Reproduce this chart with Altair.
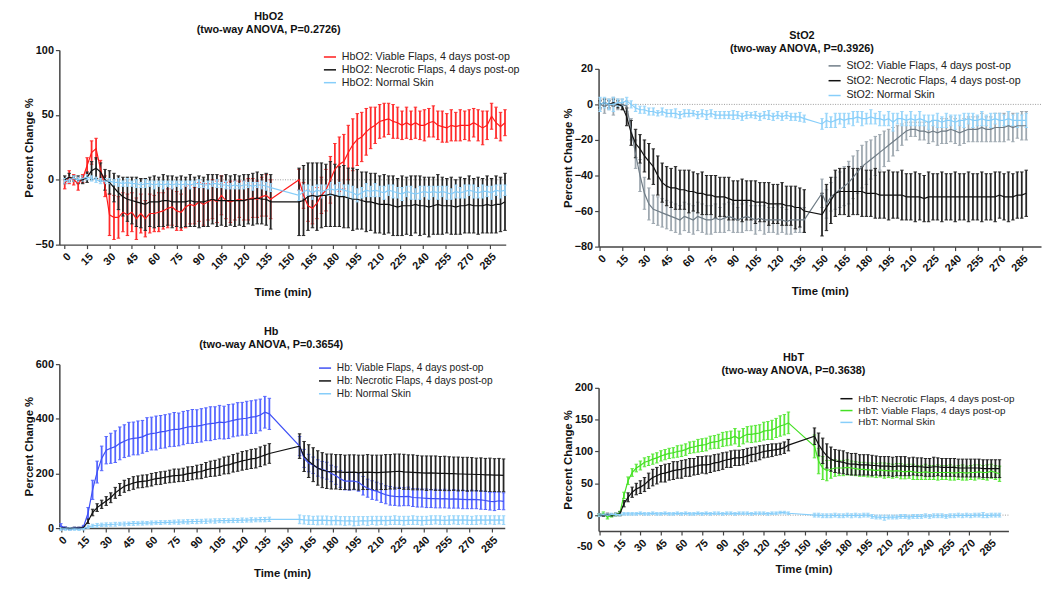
import altair as alt
import pandas as pd

FONT = "Liberation Sans"
TICKS_X = list(range(0, 286, 15))

# ---------------- time grids (minutes) ----------------
T_A = list(range(0, 139, 3))          # 0..138
T_B_HBO2 = list(range(157, 296, 3))   # 157..295
T_B_STO2 = list(range(150, 289, 3))   # 150..288
T_B_HB = list(range(158, 294, 3))     # 158..293
T_B_HBT = list(range(157, 293, 3))    # 157..292

# ---------------- HbO2 ----------------
HBO2_VIA_A = [-3,2,0,-3,1, 11,21,24,8,-5, -27,-29,-29,-25,-27, -25,-30,-26,-30,-26, -26,-25,-24,-22,-21, -24,-25,-21,-19,-20, -17,-19,-17,-15,-17, -12,-16,-17,-16,-15, -16,-15,-14,-15,-13, -12,-15]
HBO2_VIA_A_ERR = [4,5,4,5,3, 6,9,8,7,8, 16,17,16,15,16, 15,16,15,14,15, 14,15,14,15,14, 15,14,16,15,14, 15,16,14,15,16, 15,14,16,15,14, 15,16,15,14,15, 16,15]
HBO2_VIA_B = [0,-12,-20,-22,-18, -12,-8,0,8,12, 14,21,27,31,33, 37,40,42,45,46, 47,45,44,42,44, 42,44,42,42,44, 45,42,41,40,42, 41,42,42,42,44, 42,40,42,49,44, 41,44]
HBO2_VIA_B_ERR = [8,10,12,12,12, 14,16,18,20,21, 21,21,20,20,19, 18,16,14,13,13, 12,13,12,11,12, 11,12,11,12,11, 12,11,12,11,12, 11,12,11,12,11, 12,13,11,10,12, 11,10]
HBO2_NEC_A = [0,2,1,0,0, 2,7,9,6,0, -2,-6,-10,-13,-15, -16,-17,-18,-19,-17, -17,-17,-16,-16,-17, -17,-17,-17,-16,-17, -17,-17,-16,-15,-16, -16,-16,-16,-16,-16, -16,-15,-15,-14,-15, -15,-17]
HBO2_NEC_A_ERR = [3,3,2,3,3, 4,7,8,7,8, 9,11,13,15,17, 18,19,19,20,19, 20,19,20,19,20, 19,20,19,20,19, 20,19,20,19,20, 19,20,19,20,19, 20,19,20,20,19, 20,21]
HBO2_NEC_B = [-17,-16,-13,-12,-13, -12,-12,-11,-12,-13, -13,-14,-15,-15,-16, -17,-17,-18,-19,-19, -19,-20,-21,-20,-20, -20,-19,-20,-20,-21, -20,-19,-20,-20,-20, -21,-20,-20,-19,-20, -20,-20,-19,-20,-19, -19,-17]
HBO2_NEC_B_ERR = [26,27,26,25,26, 25,24,25,24,23, 24,23,24,23,22, 23,22,23,22,23, 22,23,22,23,22, 23,22,23,22,23, 22,23,22,21,22, 21,22,21,22,21, 22,21,22,21,22, 21,22]
HBO2_NOR_A = [-1,0,1,0,1, 2,1,0,-1,-1, -1,-2,-2,-3,-2, -3,-3,-4,-3,-3, -4,-3,-4,-3,-4, -3,-4,-3,-4,-3, -3,-4,-4,-3,-3, -4,-4,-5,-4,-5, -4,-4,-5,-4,-4, -5,-6]
HBO2_NOR_A_ERR = [2,2,2,2,2, 2,2,2,2,2, 2,2,3,2,3, 2,3,2,3,2, 3,2,3,2,3, 2,3,2,3,2, 3,2,3,2,3, 2,3,2,3,2, 3,2,3,2,3, 3,3]
HBO2_NOR_B = [-12,-9,-8,-10,-8, -9,-8,-7,-8,-7, -8,-9,-10,-12,-10, -8,-9,-8,-9,-10, -8,-9,-10,-11,-9, -10,-11,-10,-9,-10, -9,-10,-9,-10,-11, -9,-10,-9,-8,-9, -10,-9,-9,-10,-8, -9,-8]
HBO2_NOR_B_ERR = [4,5,4,5,4, 5,4,5,4,5, 4,5,5,5,4, 5,4,5,4,5, 4,5,4,5,4, 5,4,5,4,5, 4,5,4,5,4, 5,4,5,4,5, 4,5,4,5,4, 5,4]

# ---------------- StO2 ----------------
STO2_VIA_A = [0,-1,0,-1,0, 0,-1,-14,-28,-40, -50,-56,-59,-60,-61, -62,-63,-64,-65,-63, -64,-65,-63,-64,-65, -65,-64,-65,-64,-63, -64,-65,-64,-63,-64, -65,-64,-65,-65,-65, -65,-65,-66,-65,-65, -65,-65]
STO2_VIA_A_ERR = [3,4,3,5,3, 3,3,6,8,9, 9,9,8,8,8, 8,8,8,8,8, 8,8,8,8,8, 8,8,7,8,8, 8,7,8,8,7, 8,7,8,7,7, 8,7,7,8,7, 7,7]
STO2_VIA_B = [-50,-56,-52,-50,-48, -46,-44,-41,-38,-35, -33,-31,-29,-27,-25, -23,-21,-19,-17,-15, -14,-14,-15,-15,-16, -15,-16,-15,-15,-14, -15,-16,-15,-14,-14, -14,-13,-14,-14,-13, -13,-13,-12,-13,-12, -12,-12]
STO2_VIA_B_ERR = [8,8,8,9,10, 11,12,12,12,12, 12,11,11,10,10, 9,8,7,6,5, 4,4,5,5,6, 6,7,7,7,7, 7,7,7,7,7, 7,8,7,7,8, 8,8,8,8,7, 8,8]
STO2_NEC_A = [0,1,0,1,0, -1,-7,-16,-22,-25, -29,-32,-35,-40,-44, -46,-47,-47,-48,-48, -49,-49,-50,-50,-51, -51,-52,-52,-52,-53, -54,-54,-54,-54,-54, -55,-55,-55,-56,-56, -56,-56,-57,-57,-58, -58,-60]
STO2_NEC_A_ERR = [2,2,2,2,2, 2,5,7,8,8, 9,10,10,11,11, 11,11,12,11,11, 12,11,11,12,11, 11,12,11,11,12, 11,11,12,11,11, 12,11,11,12,11, 11,12,11,11,12, 11,12]
STO2_NEC_B = [-62,-58,-54,-50,-49, -49,-49,-49,-49,-49, -50,-50,-50,-51,-51, -51,-51,-51,-51,-52, -52,-52,-52,-53,-52, -52,-52,-52,-52,-52, -52,-52,-52,-52,-52, -52,-52,-52,-52,-52, -51,-52,-52,-52,-51, -51,-50]
STO2_NEC_B_ERR = [12,13,13,13,13, 13,14,13,13,14, 13,13,14,13,13, 14,13,13,14,13, 13,14,13,13,14, 13,13,14,13,13, 14,13,13,14,13, 13,14,13,13,14, 13,13,14,13,13, 13,13]
STO2_NOR_A = [0,1,0,0,1, 1,2,0,-2,-3, -3,-4,-4,-5,-4, -5,-5,-5,-6,-5, -5,-5,-6,-5,-6, -5,-6,-6,-6,-6, -6,-6,-7,-6,-6, -6,-7,-6,-6,-7, -6,-7,-6,-7,-7, -7,-8]
STO2_NOR_A_ERR = [4,3,3,4,2, 2,2,2,2,2, 2,2,2,1.5,2, 2,2,2.5,2,2, 2,1.5,2,2,2.5, 2,2,2,2,2, 2.5,2,2,2,1.5, 2,2,2,2.5,2, 2,2,2,2,2, 2.5,2]
STO2_NOR_B = [-11,-9,-10,-9,-8, -9,-8,-8,-7,-8, -8,-7,-8,-8,-9, -8,-10,-8,-8,-9, -8,-9,-8,-9,-10, -9,-9,-10,-9,-9, -10,-9,-9,-8,-9, -9,-8,-9,-9,-8, -9,-9,-8,-9,-9, -9,-9]
STO2_NOR_B_ERR = [3,4,3,4,3, 4,3,4,3,4, 3,4,3,4,3, 4,5,3,4,3, 4,3,4,3,4, 3,4,3,4,3, 4,3,4,3,4, 3,4,3,4,3, 4,3,4,3,4, 3,4]

# ---------------- Hb ----------------
HB_VIA_A = [8,0,-3,0,0, 5,55,140,205,255, 285,292,298,310,318, 325,328,330,334,342, 346,348,352,354,358, 361,361,366,370,372, 373,376,380,382,384, 388,386,390,394,398, 400,402,406,408,414, 424,418]
HB_VIA_A_ERR = [8,4,4,3,3, 5,20,35,40,45, 50,55,58,60,60, 62,60,62,60,62, 60,62,60,61,60, 62,60,61,60,62, 60,61,60,62,60, 61,60,62,60,61, 60,62,60,61,58, 58,57]
HB_VIA_B = [300,255,238,230,220, 214,210,200,192,180, 172,172,172,168,155, 146,139,135,128,122, 118,116,115,115,116, 112,111,110,109,108, 108,107,108,106,107, 106,105,104,105,104, 103,101,98,97,100, 98]
HB_VIA_B_ERR = [35,33,32,30,30, 30,31,30,32,31, 32,33,32,33,34, 33,34,33,34,33, 34,33,34,33,34, 33,34,33,34,33, 34,33,34,33,34, 33,34,33,34,33, 34,33,32,33,32, 31]
HB_NEC_A = [0,0,-2,0,0, 2,25,57,75,87, 99,111,129,141,153, 159,165,169,171,173, 177,181,183,186,189, 192,193,195,199,201, 205,207,213,217,219, 223,229,231,237,241, 246,249,253,255,261, 267,273]
HB_NEC_A_ERR = [3,3,3,3,3, 4,8,12,14,15, 16,18,20,22,22, 22,23,22,23,22, 23,22,23,22,23, 24,23,24,25,24, 25,26,27,28,29, 30,31,32,32,33, 34,34,35,35,36, 36,36]
HB_NEC_B = [300,262,245,232,220, 212,208,207,206,205, 204,204,205,203,204, 205,204,203,204,205, 206,207,208,206,205, 204,203,202,201,202, 201,200,200,199,199, 198,198,197,197,196, 196,195,195,194,194, 193]
HB_NEC_B_ERR = [45,55,60,62,63, 64,63,64,63,64, 63,64,63,64,63, 64,63,64,63,64, 63,64,63,64,63, 64,63,62,63,62, 63,62,63,62,61, 62,61,62,61,60, 61,60,61,60,61, 60]
HB_NOR_A = [-3,-3,-4,-3,-4, -2,5,8,10,12, 12,13,14,15,15, 16,17,17,18,18, 19,20,20,21,21, 22,22,23,23,24, 24,25,25,26,26, 27,27,27,28,28, 29,29,30,30,31, 31,32]
HB_NOR_A_ERR = [5,5,5,5,5, 5,6,6,7,6, 7,6,7,6,7, 6,7,6,7,6, 7,6,7,6,7, 7,8,7,8,7, 8,7,8,7,8, 7,8,7,8,7, 8,7,8,7,8, 8,8]
HB_NOR_B = [32,30,29,28,28, 29,28,27,28,27, 26,27,25,26,27, 26,28,27,28,27, 28,29,28,27,28, 29,28,27,28,29, 30,29,28,29,30, 29,30,29,28,29, 30,29,30,29,30, 29]
HB_NOR_B_ERR = [16,15,16,15,16, 15,16,15,16,15, 16,15,17,16,15, 16,15,16,15,16, 15,16,15,16,15, 16,15,16,15,16, 15,16,15,16,15, 16,15,16,15,16, 15,16,15,16,15, 16]

# ---------------- HbT ----------------
HBT_VIA_A = [0,2,-3,-1,1, 3,31,54,67,74, 78,83,85,88,90, 93,95,97,98,100, 101,103,106,107,109, 110,111,114,115,116, 119,120,121,124,120, 124,127,127,128,129, 132,133,134,137,140, 142,145]
HBT_VIA_A_ERR = [2,3,3,2,2, 3,5,6,6,6, 7,7,7,8,8, 8,8,8,8,9, 9,9,9,9,10, 10,10,10,10,11, 11,11,11,12,12, 12,12,13,13,13, 14,14,15,15,16, 16,17]
HBT_VIA_B = [108,85,74,70,72, 74,74,74,75,74, 73,72,72,71,71, 70,71,70,70,69, 70,69,68,69,68, 67,67,68,67,67, 67,67,67,67,66, 67,67,66,67,67, 68,67,67,69,67, 65]
HBT_VIA_B_ERR = [18,20,18,16,14, 13,12,12,12,11, 11,11,11,11,11, 11,11,12,11,11, 11,12,11,11,12, 11,11,12,11,11, 12,11,11,12,11, 11,12,11,11,12, 11,11,12,11,11, 12]
HBT_NEC_A = [0,0,1,0,1, 2,18,28,36,41, 44,48,54,59,62, 65,66,68,70,71, 72,74,75,76,78, 79,79,80,82,83, 85,87,88,90,90, 91,93,95,96,98, 100,101,102,103,104, 106,110]
HBT_NEC_A_ERR = [2,2,2,2,2, 3,5,7,8,9, 10,11,12,13,13, 13,14,13,14,13, 14,13,14,13,14, 13,14,13,13,13, 13,12,13,12,12, 12,12,11,11,11, 10,10,10,9,9, 9,9]
HBT_NEC_B = [124,111,101,93,88, 85,84,83,81,80, 80,79,79,79,78, 78,77,77,77,76, 77,77,77,76,77, 76,76,75,75,76, 76,75,75,75,75, 74,74,74,74,74, 74,73,73,73,73, 73]
HBT_NEC_B_ERR = [13,18,20,19,19, 18,18,18,17,17, 17,16,16,16,16, 15,15,15,15,15, 15,15,15,14,14, 14,14,14,14,15, 14,14,14,14,14, 14,14,14,14,14, 14,14,14,14,14, 14]
HBT_NOR_A = [0,1,0,1,1, 1,2,2,2,2, 3,2,2,3,2, 2,3,2,2,3, 2,3,2,2,3, 2,3,2,3,3, 2,3,3,2,3, 3,3,2,3,3, 3,2,3,3,4, 4,3]
HBT_NOR_A_ERR = [2,2,2,2,2, 2,2,2,2,2, 2,2,2,2,2, 2,2,2,2,2, 2,2,2,2,2, 2,2,2,2,2, 2,2,2,2,2, 2,2,2,2,2, 2,2,2,2,2, 2,2]
HBT_NOR_B = [0,0,-1,-1,-1, 0,-1,-1,0,-1, 0,-1,0,0,-2, -3,-3,-4,-3,-3, -3,-2,-2,-3,-2, -2,-2,-1,-2,-1, -1,-1,-2,-1,-1, 0,-1,0,-1,0, 0,0,-1,0,0, 0]
HBT_NOR_B_ERR = [3,3,3,3,3, 3,3,3,3,3, 3,3,3,3,3, 3,3,4,3,3, 3,3,3,3,3, 3,3,3,3,3, 3,3,3,3,3, 3,3,3,3,3, 3,4,3,3,3, 3]


def build_frame(series):
    rows = []
    for name, ta, ma, ea, tb, mb, eb in series:
        assert len(ta) == len(ma) == len(ea), (name, len(ta), len(ma), len(ea))
        assert len(tb) == len(mb) == len(eb), (name, len(tb), len(mb), len(eb))
        for t, m, e in zip(ta + tb, ma + mb, ea + eb):
            rows.append({"series": name, "t": t, "v": m, "lo": m - e, "hi": m + e})
    return pd.DataFrame(rows)


def spacer_rule(x):
    # invisible zero-size mark, only used to widen a panel's layout bounds
    return alt.Chart(pd.DataFrame({"a": [0]})).mark_rule(strokeOpacity=0, strokeWidth=1).encode(
        x=alt.value(x), x2=alt.value(x + 1), y=alt.value(0))


def make_panel(title, series, legend_order, draw_order, line_colors, bar_colors,
               xdom, ydom, yvals, w, h, lx, ly, lfs, rowpad, t_off, x_tpad,
               zero=True, neg_label=None, left_ext=None, right_ext=None):
    df = build_frame(series)
    xs = alt.Scale(domain=xdom, nice=False, zero=False)
    ys = alt.Scale(domain=ydom, nice=False, zero=False)
    xax = alt.Axis(values=TICKS_X, labelAngle=-45, title="Time (min)", titlePadding=x_tpad)
    yax = alt.Axis(values=yvals, title="Percent Change %", titlePadding=1)
    cscale = alt.Scale(domain=legend_order, range=[line_colors[s] for s in legend_order])
    legend = alt.Legend(orient="none", legendX=lx, legendY=ly, title=None, labelFontSize=lfs,
                        rowPadding=rowpad, symbolType="stroke", symbolSize=150,
                        symbolStrokeWidth=1.5, labelOffset=5, padding=0, labelLimit=400)
    layers = []
    if zero:
        layers.append(alt.Chart(pd.DataFrame({"z": [0]})).mark_rule(
            color="#9a9a9a", strokeDash=[1, 1.5], strokeWidth=1).encode(
            y=alt.Y("z:Q", scale=ys, axis=yax)))
    for s in draw_order:
        d = df[df.series == s]
        base = alt.Chart(d)
        layers.append(base.mark_rule(color=bar_colors[s], strokeWidth=1.8).encode(
            x=alt.X("t:Q", scale=xs, axis=xax),
            y=alt.Y("lo:Q", scale=ys, axis=yax), y2="hi:Q"))
        for f in ("lo", "hi"):
            layers.append(base.mark_tick(orient="horizontal", size=3.5, thickness=1,
                                         color=bar_colors[s], opacity=1).encode(
                x=alt.X("t:Q", scale=xs, axis=xax),
                y=alt.Y(f + ":Q", scale=ys, axis=yax)))
    for s in draw_order:
        d = df[df.series == s]
        layers.append(alt.Chart(d).mark_line(strokeWidth=1.2).encode(
            x=alt.X("t:Q", scale=xs, axis=xax),
            y=alt.Y("v:Q", scale=ys, axis=yax),
            color=alt.Color("series:N", scale=cscale, legend=legend)))
    if neg_label is not None:
        layers.append(alt.Chart(pd.DataFrame({"lab": [str(neg_label)], "yv": [neg_label]})).mark_text(
            align="right", baseline="middle", font=FONT, fontSize=11, fontWeight="bold",
            color="#111", dx=-6).encode(
            x=alt.value(0), y=alt.Y("yv:Q", scale=ys, axis=yax), text="lab:N"))
    if left_ext is not None:
        layers.append(spacer_rule(-left_ext))
    if right_ext is not None:
        layers.append(spacer_rule(w + right_ext))
    return alt.layer(*layers).properties(
        width=w, height=h,
        title=alt.TitleParams(text=title, anchor="middle", frame="bounds", offset=t_off,
                              fontSize=11, lineHeight=13, fontWeight="bold", font=FONT, color="#111"))


RED, BLACK, LBLUE = "#ff1a1a", "#111111", "#87cefa"
NEC_BAR = "#262626"

# HbO2
n1 = ["HbO2: Viable Flaps, 4 days post-op", "HbO2: Necrotic Flaps, 4 days post-op", "HbO2: Normal Skin"]
p1 = make_panel(
    ["HbO2", "(two-way ANOVA, P=0.2726)"],
    [(n1[0], T_A, HBO2_VIA_A, HBO2_VIA_A_ERR, T_B_HBO2, HBO2_VIA_B, HBO2_VIA_B_ERR),
     (n1[1], T_A, HBO2_NEC_A, HBO2_NEC_A_ERR, T_B_HBO2, HBO2_NEC_B, HBO2_NEC_B_ERR),
     (n1[2], T_A, HBO2_NOR_A, HBO2_NOR_A_ERR, T_B_HBO2, HBO2_NOR_B, HBO2_NOR_B_ERR)],
    n1, n1,
    {n1[0]: RED, n1[1]: BLACK, n1[2]: LBLUE},
    {n1[0]: "#ff2a2a", n1[1]: NEC_BAR, n1[2]: "#9ad6fa"},
    [-3.6, 295.5], [-50, 100], [-50, 0, 50, 100], 452, 197, 267, 0, 10.8, 1,
    9, 16, left_ext=43)

# StO2
n2 = ["StO2: Viable Flaps, 4 days post-op", "StO2: Necrotic Flaps, 4 days post-op", "StO2: Normal Skin"]
p2 = make_panel(
    ["StO2", "(two-way ANOVA, P=0.3926)"],
    [(n2[0], T_A, STO2_VIA_A, STO2_VIA_A_ERR, T_B_STO2, STO2_VIA_B, STO2_VIA_B_ERR),
     (n2[1], T_A, STO2_NEC_A, STO2_NEC_A_ERR, T_B_STO2, STO2_NEC_B, STO2_NEC_B_ERR),
     (n2[2], T_A, STO2_NOR_A, STO2_NOR_A_ERR, T_B_STO2, STO2_NOR_B, STO2_NOR_B_ERR)],
    n2, n2,
    {n2[0]: "#6f7c86", n2[1]: BLACK, n2[2]: LBLUE},
    {n2[0]: "#9ea8b0", n2[1]: NEC_BAR, n2[2]: "#9ad6fa"},
    [-1, 298], [-80, 20], [-80, -60, -40, -20, 0, 20], 448, 180, 232, -10, 10.8, 3,
    5, 13)

# Hb
n3 = ["Hb: Viable Flaps, 4 days post-op", "Hb: Necrotic Flaps, 4 days post-op", "Hb: Normal Skin"]
p3 = make_panel(
    ["Hb", "(two-way ANOVA, P=0.3654)"],
    [(n3[0], T_A, HB_VIA_A, HB_VIA_A_ERR, T_B_HB, HB_VIA_B, HB_VIA_B_ERR),
     (n3[1], T_A, HB_NEC_A, HB_NEC_A_ERR, T_B_HB, HB_NEC_B, HB_NEC_B_ERR),
     (n3[2], T_A, HB_NOR_A, HB_NOR_A_ERR, T_B_HB, HB_NOR_B, HB_NOR_B_ERR)],
    n3, n3,
    {n3[0]: "#3f50f5", n3[1]: BLACK, n3[2]: LBLUE},
    {n3[0]: "#5566ff", n3[1]: NEC_BAR, n3[2]: "#9ad6fa"},
    [-1, 293.8], [0, 600], [0, 200, 400, 600], 451, 166, 262, -3, 10.3, 0,
    8, 13, zero=False, left_ext=43, right_ext=20)

# HbT
n4 = ["HbT: Necrotic Flaps, 4 days post-op", "HbT: Viable Flaps, 4 days post-op", "HbT: Normal Skin"]
p4 = make_panel(
    ["HbT", "(two-way ANOVA, P=0.3638)"],
    [(n4[1], T_A, HBT_VIA_A, HBT_VIA_A_ERR, T_B_HBT, HBT_VIA_B, HBT_VIA_B_ERR),
     (n4[0], T_A, HBT_NEC_A, HBT_NEC_A_ERR, T_B_HBT, HBT_NEC_B, HBT_NEC_B_ERR),
     (n4[2], T_A, HBT_NOR_A, HBT_NOR_A_ERR, T_B_HBT, HBT_NOR_B, HBT_NOR_B_ERR)],
    n4, [n4[1], n4[0], n4[2]],
    {n4[1]: "#44e024", n4[0]: BLACK, n4[2]: LBLUE},
    {n4[1]: "#5ae83a", n4[0]: NEC_BAR, n4[2]: "#9ad6fa"},
    [-0.5, 298.5], [-25, 200], [0, 50, 100, 150, 200], 415, 145, 244, 4, 10, 0,
    6, 6, neg_label=-50, right_ext=15)

RES = dict(color="independent", x="independent", y="independent")

# tiny invisible block that pushes the StO2 panel a little lower than HbO2
top_gap = alt.Chart(pd.DataFrame({"a": [0]})).mark_rule(strokeOpacity=0).encode(
    x=alt.value(0), y=alt.value(0)).properties(width=10, height=1)

col1 = alt.vconcat(p1, p3, spacing=28).resolve_scale(**RES)
inner2 = alt.vconcat(top_gap, p2, spacing=-21).resolve_scale(**RES)
col2 = alt.vconcat(inner2, p4, spacing=55).resolve_scale(**RES)

chart = alt.hconcat(col1, col2, spacing=37).resolve_scale(**RES).properties(
    padding={"left": 9, "top": 0, "right": 0, "bottom": 0}
).configure_view(
    stroke=None
).configure_axis(
    labelFont=FONT, labelFontSize=11, labelFontWeight="bold", labelColor="#111",
    titleFont=FONT, titleFontSize=11.5, titleFontWeight="bold", titleColor="#111",
    domainColor="#444", domainWidth=1.5, tickColor="#444", tickWidth=1.2, tickSize=4,
    grid=False, labelPadding=2
).configure_legend(
    labelFont=FONT, labelColor="#222"
)

chart.save("out.html", embed_options={"renderer": "svg", "actions": False})
